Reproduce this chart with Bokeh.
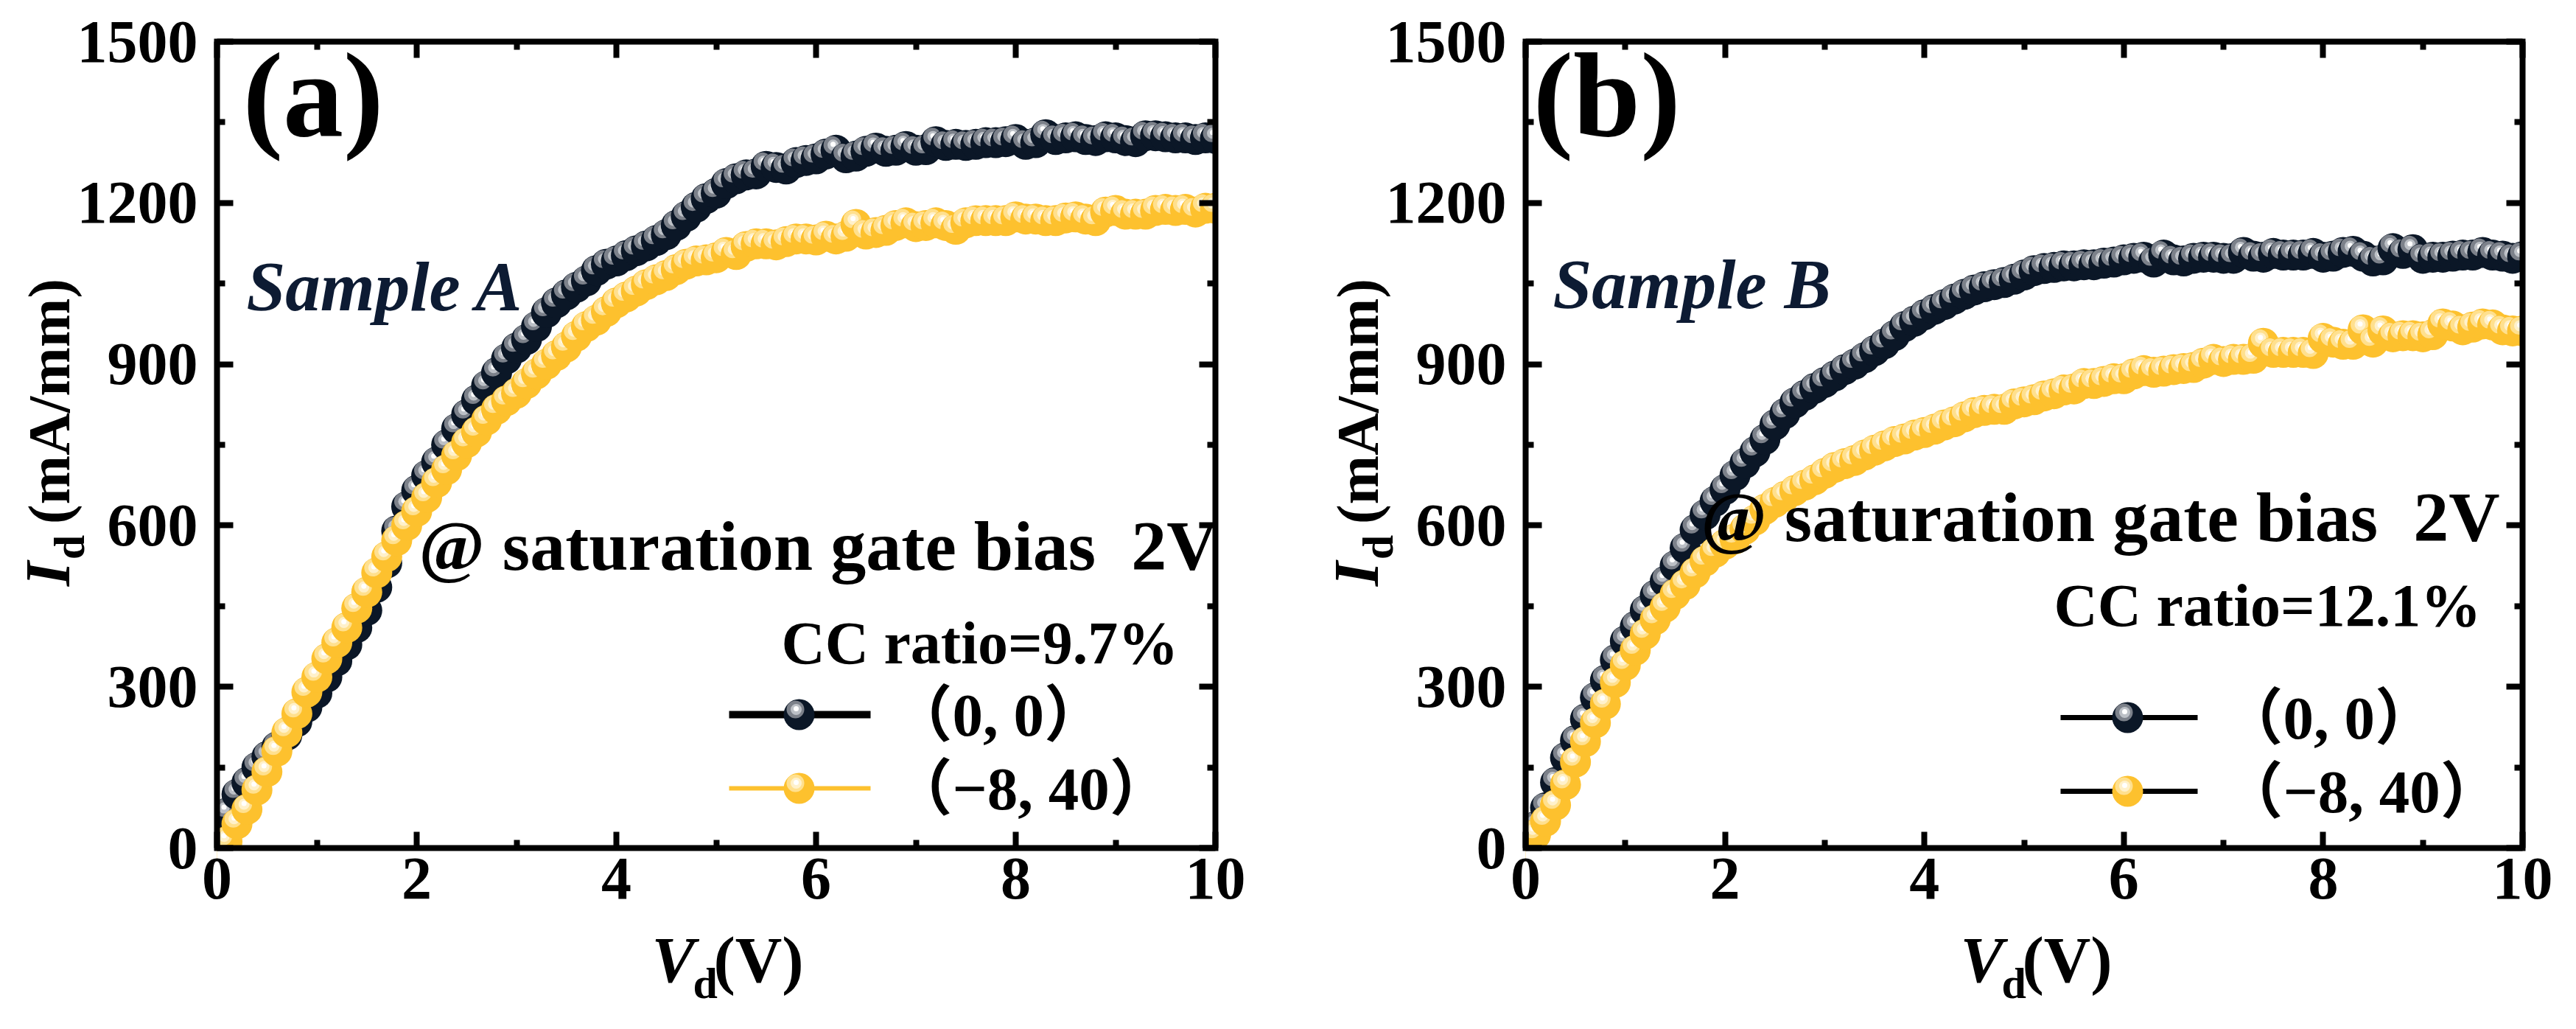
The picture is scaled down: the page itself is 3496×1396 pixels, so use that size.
import math
from bokeh.plotting import figure
from bokeh.models import Range1d, LinearAxis, FixedTicker, Label, ColumnDataSource
from bokeh.layouts import row
from bokeh.embed import file_html
from bokeh.resources import INLINE

# ---------------- data ----------------
VD = [0.0, 0.1, 0.2, 0.3, 0.4, 0.5, 0.6, 0.7, 0.8, 0.9,
      1.0, 1.1, 1.2, 1.3, 1.4, 1.5, 1.6, 1.7, 1.8, 1.9,
      2.0, 2.1, 2.2, 2.3, 2.4, 2.5, 2.6, 2.7, 2.8, 2.9,
      3.0, 3.1, 3.2, 3.3, 3.4, 3.5, 3.6, 3.7, 3.8, 3.9,
      4.0, 4.1, 4.2, 4.3, 4.4, 4.5, 4.6, 4.7, 4.8, 4.9,
      5.0, 5.1, 5.2, 5.3, 5.4, 5.5, 5.6, 5.7, 5.8, 5.9,
      6.0, 6.1, 6.2, 6.3, 6.4, 6.5, 6.6, 6.7, 6.8, 6.9,
      7.0, 7.1, 7.2, 7.3, 7.4, 7.5, 7.6, 7.7, 7.8, 7.9,
      8.0, 8.1, 8.2, 8.3, 8.4, 8.5, 8.6, 8.7, 8.8, 8.9,
      9.0, 9.1, 9.2, 9.3, 9.4, 9.5, 9.6, 9.7, 9.8, 9.9,
      10.0]

# Sample A, bias (0, 0)
A_ID_00 = [40, 65, 100, 122, 150, 170, 188, 210, 235, 262,
           288, 318, 348, 378, 410, 442, 485, 530, 590, 635,
           665, 693, 718, 750, 780, 806, 833, 860, 884, 910,
           930, 946, 970, 996, 1014, 1029, 1043, 1055, 1074, 1086,
           1092, 1102, 1111, 1120, 1130, 1141, 1158, 1175, 1192, 1208,
           1218, 1236, 1245, 1252, 1254, 1268, 1266, 1263, 1275, 1279,
           1282, 1291, 1298, 1284, 1287, 1296, 1302, 1296, 1298, 1305,
           1298, 1299, 1314, 1307, 1309, 1307, 1309, 1312, 1312, 1314,
           1318, 1309, 1312, 1327, 1318, 1321, 1323, 1318, 1316, 1323,
           1321, 1316, 1314, 1325, 1325, 1323, 1321, 1321, 1318, 1321,
           1320]
# Sample A, bias (-8, 40)
A_ID_840 = [5, 12, 45, 72, 108, 142, 180, 215, 250, 290,
            318, 352, 382, 410, 446, 476, 512, 542, 572, 600,
            626, 652, 680, 704, 730, 754, 774, 796, 816, 832,
            846, 864, 882, 900, 916, 932, 952, 970, 982, 998,
            1014, 1025, 1036, 1048, 1057, 1065, 1076, 1086, 1092, 1094,
            1098, 1108, 1104, 1119, 1124, 1124, 1122, 1128, 1133, 1133,
            1131, 1138, 1133, 1138, 1160, 1142, 1145, 1149, 1158, 1163,
            1156, 1158, 1163, 1158, 1151, 1163, 1167, 1167, 1167, 1167,
            1174, 1170, 1170, 1167, 1167, 1172, 1174, 1170, 1167, 1183,
            1186, 1179, 1179, 1179, 1186, 1188, 1186, 1188, 1183, 1190,
            1190]
# Sample B, bias (0, 0)
B_ID_00 = [15, 40, 75, 122, 168, 200, 240, 280, 312, 350,
           385, 412, 442, 470, 496, 525, 558, 592, 620, 645,
           667, 693, 716, 737, 760, 787, 808, 828, 842, 855,
           866, 878, 890, 900, 912, 925, 938, 953, 970, 980,
           992, 1002, 1011, 1021, 1030, 1038, 1044, 1048, 1052, 1058,
           1066, 1074, 1078, 1080, 1083, 1083, 1085, 1085, 1088, 1090,
           1094, 1097, 1099, 1090, 1103, 1094, 1092, 1097, 1099, 1099,
           1097, 1097, 1108, 1101, 1099, 1106, 1103, 1103, 1103, 1106,
           1099, 1101, 1108, 1110, 1101, 1092, 1094, 1115, 1106, 1113,
           1097, 1099, 1099, 1101, 1103, 1103, 1108, 1103, 1101, 1097,
           1100]
# Sample B, bias (-8, 40)
B_ID_840 = [8, 25, 50, 80, 118, 160, 198, 233, 268, 308,
            340, 368, 398, 425, 448, 472, 490, 512, 534, 550,
            565, 575, 593, 610, 630, 643, 654, 665, 675, 685,
            697, 708, 715, 721, 731, 740, 748, 756, 761, 768,
            773, 779, 787, 793, 802, 810, 814, 816, 816, 826,
            830, 834, 841, 845, 852, 854, 864, 864, 868, 873,
            873, 882, 888, 885, 887, 890, 892, 894, 902, 909,
            905, 909, 909, 911, 939, 922, 922, 922, 922, 920,
            948, 941, 937, 937, 964, 941, 962, 951, 953, 953,
            951, 955, 975, 971, 964, 969, 975, 973, 964, 962,
            962]

X_MAJOR = [0, 2, 4, 6, 8, 10]
X_MINOR = [1, 3, 5, 7, 9]
Y_MAJOR = [0, 300, 600, 900, 1200, 1500]
Y_MINOR = [150, 450, 750, 1050, 1350]

LEGEND_LABELS = ["（0, 0）", "（−8, 40）"]
SAMPLES = ["Sample A", "Sample B"]
TAGS = ["(a)", "(b)"]
CC_TEXTS = ["CC ratio=9.7%", "CC ratio=12.1%"]
BIAS_TEXT = "@ saturation gate bias\u00a0 2V"

# ---------------- styles ----------------
SERIF = "Liberation Serif"
LEG_FONT = "Liberation Serif, Noto Sans CJK SC"
DARK = ["#0b1727", "#7c818a", "#bcc0c6", "#ffffff"]
GOLD = ["#fdc12e", "#ffe08e", "#fff1cb", "#ffffff"]
NAVY = "#0d1b33"

W, H = 1740, 1380
BOX_TOP, BOX_BOTTOM = 56, 230          # canvas px above / below the plot box
BOX_H = H - BOX_TOP - BOX_BOTTOM


def sphere_source(xs, ys, pal, ux, uy):
    # layered discs per point (drawn point by point) to give a shaded-ball look
    layers = [(0, 0, 42, pal[0]), (-5, 7, 24, pal[1]), (-4, 7, 15, pal[2]), (-4, 8, 7, pal[3])]
    X, Y, S, C = [], [], [], []
    for x, y in zip(xs, ys):
        for dx, dy, s, c in layers:
            X.append(x + dx * ux)
            Y.append(y + dy * uy)
            S.append(s)
            C.append(c)
    return ColumnDataSource(dict(x=X, y=Y, size=S, color=C))


def make_axis(ticks, minor, loc, bounds, show, standoff=0):
    ax = LinearAxis(ticker=FixedTicker(ticks=ticks, minor_ticks=minor),
                    fixed_location=loc, bounds=bounds)
    ax.axis_line_color = None
    ax.major_tick_in = 22
    ax.major_tick_out = 0
    ax.minor_tick_in = 11
    ax.minor_tick_out = 0
    ax.major_tick_line_width = 8
    ax.minor_tick_line_width = 8
    ax.major_tick_line_color = "black"
    ax.minor_tick_line_color = "black"
    ax.major_tick_line_cap = "butt"
    ax.minor_tick_line_cap = "butt"
    if show:
        ax.major_label_text_font = SERIF
        ax.major_label_text_font_style = "bold"
        ax.major_label_text_font_size = "82px"
        ax.major_label_text_color = "black"
        ax.major_label_standoff = standoff
    else:
        ax.major_label_text_font_size = "0px"
        ax.major_label_text_color = None
        ax.major_label_standoff = 0
    return ax


def make_panel(i, y00, y840, left_px, right_px, lay):
    box_w = W - left_px - right_px
    ux = (X_MAJOR[-1] - X_MAJOR[0]) / box_w
    uy = (Y_MAJOR[-1] - Y_MAJOR[0]) / BOX_H
    x0, x1 = X_MAJOR[0] - left_px * ux, X_MAJOR[-1] + right_px * ux
    y0, y1 = Y_MAJOR[0] - BOX_BOTTOM * uy, Y_MAJOR[-1] + BOX_TOP * uy
    p = figure(width=W, height=H, x_range=Range1d(x0, x1), y_range=Range1d(y0, y1),
               x_axis_location=None, y_axis_location=None,
               output_backend="svg", toolbar_location=None,
               min_border=0, min_border_left=0, min_border_right=0,
               min_border_top=0, min_border_bottom=0,
               background_fill_color="white", border_fill_color="white",
               outline_line_color=None)
    p.xgrid.visible = False
    p.ygrid.visible = False

    xr = (X_MAJOR[0], X_MAJOR[-1])
    yr = (Y_MAJOR[0], Y_MAJOR[-1])
    p.add_layout(make_axis(X_MAJOR, X_MINOR, Y_MAJOR[0], xr, True, 14), "below")
    p.add_layout(make_axis(Y_MAJOR, Y_MINOR, X_MAJOR[0], yr, True, 26), "left")
    p.add_layout(make_axis(X_MAJOR, X_MINOR, Y_MAJOR[-1], xr, False), "above")
    p.add_layout(make_axis(Y_MAJOR, Y_MINOR, X_MAJOR[-1], yr, False), "right")

    # data
    p.scatter("x", "y", size="size", fill_color="color", line_color=None,
              source=sphere_source(VD, y00, DARK, ux, uy))
    p.scatter("x", "y", size="size", fill_color="color", line_color=None,
              source=sphere_source(VD, y840, GOLD, ux, uy))

    # white mask outside the plot box (clips the balls at the box edges)
    p.quad(left=[x0, xr[1], xr[0], xr[0]], right=[xr[0], x1, xr[1], xr[1]],
           bottom=[y0, y0, y0, yr[1]], top=[y1, y1, yr[0], y1],
           fill_color="white", line_color=None)
    # plot box
    p.quad(left=[xr[0]], right=[xr[1]], bottom=[yr[0]], top=[yr[1]],
           fill_color=None, line_color="black", line_width=8, line_join="miter")

    def lab(dx, dy, text, size, style="bold", angle=0.0, color="black", font=SERIF,
            align="left"):
        p.add_layout(Label(x=dx * ux, y=dy * uy, text=text, text_font=font,
                           text_font_size=f"{size}px", text_font_style=style,
                           text_color=color, angle=angle, angle_units="rad",
                           text_align=align, text_baseline="middle"))

    def lab_base(dx, dy, text, size, **kw):
        # dy is the baseline height; "middle" sits ~0.34 em above it
        lab(dx, dy + 0.34 * size, text, size, **kw)

    # legend (manual)
    for k, (pal, lcol, lw) in enumerate(lay["legend"]):
        ry = lay["rows"][k]
        p.line(x=[lay["lx0"] * ux, lay["lx1"] * ux], y=[ry * uy, ry * uy],
               line_color=lcol, line_width=lw, line_cap="butt")
        p.scatter("x", "y", size="size", fill_color="color", line_color=None,
                  source=sphere_source([lay["mx"] * ux], [ry * uy], pal, ux, uy))
        lab(lay["tx"], ry, LEGEND_LABELS[k], 83, font=LEG_FONT)

    # annotations
    lab_base(lay["tag"][0], lay["tag"][1], TAGS[i], 164)
    lab_base(lay["sample"][0], lay["sample"][1], SAMPLES[i], 95, style="bold italic", color=NAVY)
    lab_base(lay["bias"][0], lay["bias"][1], BIAS_TEXT, 96)
    lab_base(lay["cc"][0], lay["cc"][1], CC_TEXTS[i], 82)

    # y title, rotated; anchors are the centres of each piece
    up = math.pi / 2
    lab(-200 - 0.34 * 86, 372, "I", 86, style="bold italic", angle=up, align="center")
    lab(-180 - 0.34 * 60, 408, "d", 60, angle=up, align="center")
    lab(-200 - 0.34 * 80, 606, "(mA/mm)", 80, angle=up, align="center")
    # x title
    lab_base(590, -182, "V", 88, style="bold italic")
    lab_base(646, -204, "d", 60)
    lab_base(674, -182, "(V)", 88)
    return p


LAY_A = dict(tag=(35, 966), sample=(40, 729), bias=(274, 377), cc=(766, 250),
             rows=[181, 81], lx0=695, lx1=887, mx=790, tx=915,
             legend=[(DARK, "black", 10), (GOLD, "#fdc12e", 6)])
LAY_B = dict(tag=(10, 966), sample=(37, 732), bias=(238, 416), cc=(717, 301),
             rows=[177, 77], lx0=726, lx1=912, mx=817, tx=945,
             legend=[(DARK, "black", 7), (GOLD, "black", 7)])

pa = make_panel(0, A_ID_00, A_ID_840, 294, 91, LAY_A)
pb = make_panel(1, B_ID_00, B_ID_840, 330, 57, LAY_B)

layout = row(pa, pb)
open("out.html", "w").write(file_html(layout, INLINE))
